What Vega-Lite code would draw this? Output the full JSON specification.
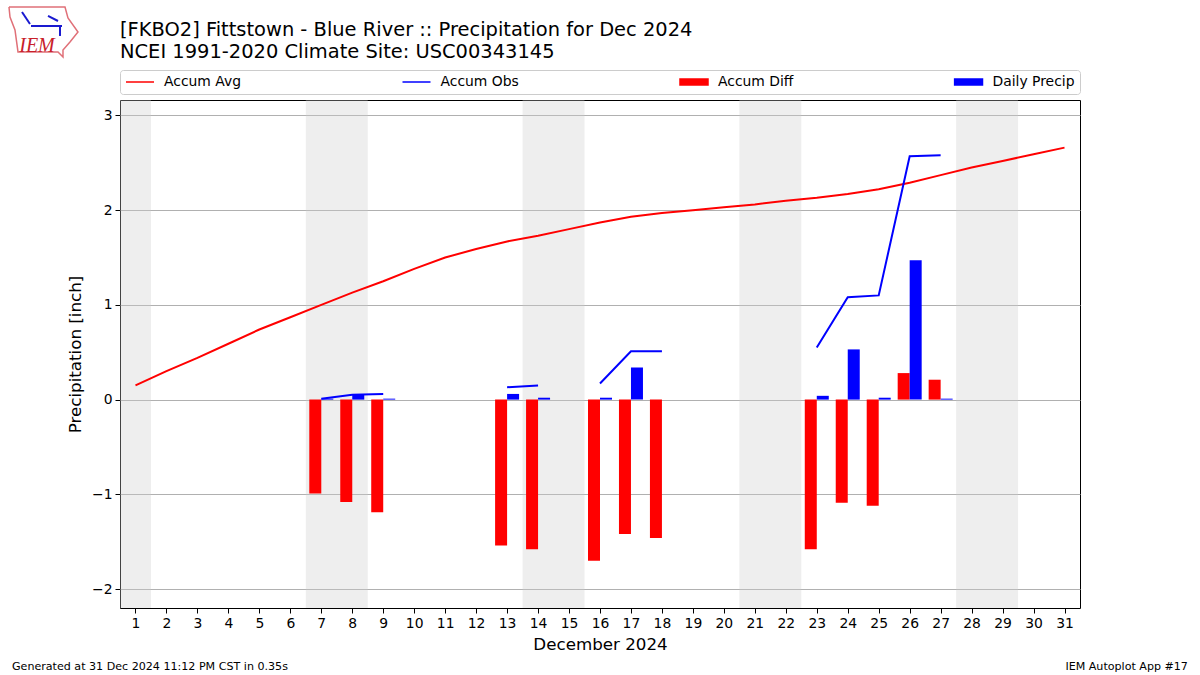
{
"$schema":"https://vega.github.io/schema/vega-lite/v6.json",
"width":960,"height":508,
"autosize":"none",
"padding":{"left":120,"top":100,"right":120,"bottom":67},
"background":"white",
"title":{"text":["[FKBO2] Fittstown - Blue River :: Precipitation for Dec 2024","NCEI 1991-2020 Climate Site: USC00343145"],"anchor":"start","frame":"group","font":"DejaVu Sans","fontSize":19.45,"fontWeight":"normal","color":"black","lineHeight":21.5,"offset":0,"dy":58},
"config":{"view":{"stroke":"black","strokeWidth":1},"font":"DejaVu Sans"},
"datasets":{
"daily":[
{"day":1,"avg":0.15},{"day":2,"avg":0.30},{"day":3,"avg":0.44},{"day":4,"avg":0.59},{"day":5,"avg":0.74},{"day":6,"avg":0.87},
{"day":7,"avg":1.00,"obs":0.01,"diff":-0.99,"precip":0.01},
{"day":8,"avg":1.13,"obs":0.05,"diff":-1.08,"precip":0.05},
{"day":9,"avg":1.25,"obs":0.06,"diff":-1.19,"precip":0.01},
{"day":10,"avg":1.38},{"day":11,"avg":1.50},{"day":12,"avg":1.59},
{"day":13,"avg":1.67,"obs":0.13,"diff":-1.54,"precip":0.06},
{"day":14,"avg":1.73,"obs":0.15,"diff":-1.58,"precip":0.02},
{"day":15,"avg":1.80},
{"day":16,"avg":1.87,"obs":0.17,"diff":-1.70,"precip":0.02},
{"day":17,"avg":1.93,"obs":0.51,"diff":-1.42,"precip":0.34},
{"day":18,"avg":1.97,"obs":0.51,"diff":-1.46,"precip":0},
{"day":19,"avg":2.00},{"day":20,"avg":2.03},{"day":21,"avg":2.06},{"day":22,"avg":2.10},
{"day":23,"avg":2.13,"obs":0.55,"diff":-1.58,"precip":0.04},
{"day":24,"avg":2.17,"obs":1.08,"diff":-1.09,"precip":0.53},
{"day":25,"avg":2.22,"obs":1.10,"diff":-1.12,"precip":0.02},
{"day":26,"avg":2.29,"obs":2.57,"diff":0.28,"precip":1.47},
{"day":27,"avg":2.37,"obs":2.58,"diff":0.21,"precip":0.01},
{"day":28,"avg":2.45},{"day":29,"avg":2.52},{"day":30,"avg":2.59},{"day":31,"avg":2.66}
],
"weekends":[{"start":0.5,"end":1.5},{"start":6.5,"end":8.5},{"start":13.5,"end":15.5},{"start":20.5,"end":22.5},{"start":27.5,"end":29.5}],
"series":[{"series":"Accum Avg"},{"series":"Accum Obs"},{"series":"Accum Diff"},{"series":"Daily Precip"}],
"logoRed":[{"lx":-3.085,"ly":4.145},{"lx":-1.276,"ly":4.145},{"lx":-1.18,"ly":4.029},{"lx":-0.857,"ly":3.881},{"lx":-1.115,"ly":3.775},{"lx":-1.341,"ly":3.691},{"lx":-1.341,"ly":3.617},{"lx":-1.502,"ly":3.67},{"lx":-2.794,"ly":3.67},{"lx":-2.891,"ly":3.902},{"lx":-3.052,"ly":4.039},{"lx":-3.085,"ly":4.145}],
"logoBlue":[{"part":"a","lx":-2.374,"ly":3.944},{"part":"a","lx":-1.373,"ly":3.944},{"part":"b","lx":-1.825,"ly":4.05},{"part":"b","lx":-1.502,"ly":3.997},{"part":"c","lx":-1.438,"ly":3.944},{"part":"c","lx":-1.438,"ly":3.839},{"part":"d","lx":-2.665,"ly":4.092},{"part":"d","lx":-2.407,"ly":3.965}]
},
"data":{"name":"daily"},
"encoding":{
"x":{"type":"quantitative","scale":{"domain":[0.5,31.5],"nice":false,"zero":false,"padding":0},"axis":{"title":"December 2024","values":[1,2,3,4,5,6,7,8,9,10,11,12,13,14,15,16,17,18,19,20,21,22,23,24,25,26,27,28,29,30,31],"format":"d","grid":false,"labelFont":"DejaVu Sans","labelFontSize":13.9,"labelColor":"black","tickColor":"black","tickSize":5,"domain":false,"titleFont":"DejaVu Sans","titleFontSize":16.7,"titleFontWeight":"normal","titleColor":"black","titlePadding":7,"labelPadding":3,"labelOverlap":false,"labelSeparation":0,"labelBound":false,"labelFlush":false}},
"y":{"type":"quantitative","scale":{"domain":[-2.2,3.163],"nice":false,"zero":false},"axis":{"title":"Precipitation [inch]","values":[-2,-1,0,1,2,3],"format":"d","grid":true,"gridColor":"#b0b0b0","gridWidth":1,"labelFont":"DejaVu Sans","labelFontSize":13.9,"labelColor":"black","tickColor":"black","tickSize":5,"domain":false,"titleFont":"DejaVu Sans","titleFontSize":16.7,"titleFontWeight":"normal","titleColor":"black","titlePadding":7,"labelPadding":3}}
},
"layer":[
{"data":{"name":"weekends"},"mark":{"type":"rect","color":"#cccccc","opacity":0.33},"encoding":{"x":{"field":"start"},"x2":{"field":"end"},"y":{"datum":-2.2},"y2":{"datum":3.163}}},
{"mark":{"type":"bar","orient":"vertical","width":12,"xOffset":-6,"color":"#ff0000"},"encoding":{"x":{"field":"day"},"y":{"field":"diff","stack":null},"y2":{"datum":0}}},
{"mark":{"type":"bar","orient":"vertical","width":12,"xOffset":6,"color":"#0000ff"},"encoding":{"x":{"field":"day"},"y":{"field":"precip","stack":null},"y2":{"datum":0}}},
{"mark":{"type":"line","color":"#ff0000","strokeWidth":2},"encoding":{"x":{"field":"day"},"y":{"field":"avg"}}},
{"mark":{"type":"line","color":"#0000ff","strokeWidth":2},"encoding":{"x":{"field":"day"},"y":{"field":"obs"}}},
{"data":{"name":"series"},"mark":{"type":"point","opacity":0,"filled":true},"encoding":{"x":{"datum":10},"y":{"datum":1},
"shape":{"field":"series","type":"nominal","sort":null,"scale":{"domain":["Accum Avg","Accum Obs","Accum Diff","Daily Precip"],"range":["M-1,0H1","M-1,0H1","M-1,-.22H1V.22H-1Z","M-1,-.22H1V.22H-1Z"]},"legend":{"title":null,"orient":"none","legendX":0,"legendY":-30,"columns":4,"columnPadding":159.5,"symbolSize":784,"clipHeight":14,"symbolOpacity":1,"symbolStrokeWidth":1.5,"labelFont":"DejaVu Sans","labelFontSize":13.9,"labelColor":"black","labelOffset":9,"strokeColor":"#cccccc","cornerRadius":3,"padding":5,"fillColor":"white"}},
"fill":{"field":"series","type":"nominal","sort":null,"scale":{"domain":["Accum Avg","Accum Obs","Accum Diff","Daily Precip"],"range":["#ff0000","#0000ff","#ff0000","#0000ff"]}},
"stroke":{"field":"series","type":"nominal","sort":null,"scale":{"domain":["Accum Avg","Accum Obs","Accum Diff","Daily Precip"],"range":["#ff0000","#0000ff","#ff0000","#0000ff"]}}
}},
{"data":{"name":"logoRed"},"mark":{"type":"line","color":"#e07078","strokeWidth":1.5},"encoding":{"x":{"field":"lx"},"y":{"field":"ly"},"order":{"field":"__none"}}},
{"data":{"name":"logoBlue"},"mark":{"type":"line","color":"#1a1ad0","strokeWidth":2},"encoding":{"x":{"field":"lx"},"y":{"field":"ly"},"detail":{"field":"part"},"order":{"field":"__none"}}},
{"data":{"values":[{"label":"IEM"}]},"mark":{"type":"text","font":"Liberation Serif","fontStyle":"italic","fontSize":20,"color":"#c8202a","align":"center","baseline":"alphabetic"},"encoding":{"x":{"datum":-2.18},"y":{"datum":3.67},"text":{"field":"label"}}},
{"data":{"values":[{"label":"Generated at 31 Dec 2024 11:12 PM CST in 0.35s"}]},"mark":{"type":"text","fontSize":11.1,"color":"black","align":"left","baseline":"middle"},"encoding":{"x":{"datum":-2.988},"y":{"datum":-2.824},"text":{"field":"label"}}},
{"data":{"values":[{"label":"IEM Autoplot App #17"}]},"mark":{"type":"text","fontSize":11.1,"color":"black","align":"right","baseline":"middle"},"encoding":{"x":{"datum":34.985},"y":{"datum":-2.824},"text":{"field":"label"}}}
]
}
